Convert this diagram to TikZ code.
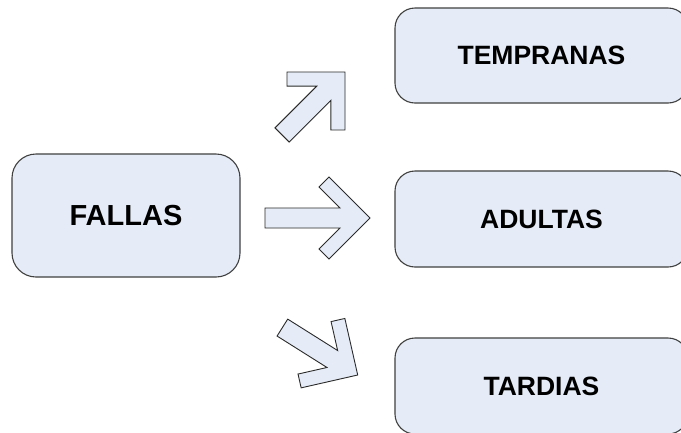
\documentclass[tikz,border=0pt]{standalone}
\usepackage{fontspec}
\setmainfont{Liberation Sans}
\definecolor{boxfill}{HTML}{E6ECF7}
\definecolor{boxline}{HTML}{404040}
\definecolor{arrowline}{HTML}{2A2A2A}
\begin{document}
\begin{tikzpicture}[x=1pt,y=-1pt,
  box/.style={draw=boxline, line width=1.1pt, fill=boxfill, rounded corners=20pt,
    inner sep=0pt, font=\bfseries\fontsize{26.5}{30}\selectfont},
  mainbox/.style={box, rounded corners=24pt, font=\bfseries\fontsize{29}{34}\selectfont},
  arrowstyle/.style={draw=arrowline, line width=0.9pt, fill=boxfill, line join=miter},
  pics/blockarrow/.style={code={
    % notched block arrow, tip at the origin, pointing along +x
    \path[arrowstyle] (0,0) -- (-41,-41) -- (-51,-31) -- (-30,-10) -- (-#1,-10)
      -- (-#1,10) -- (-30,10) -- (-51,31) -- (-41,41) -- cycle;
  }}]
\clip (0,0) rectangle (681,432);
\fill[white] (0,0) rectangle (681,432);

\node[mainbox, minimum width=228pt, minimum height=123pt] (fallas) at (126,215.5) {FALLAS};
\node[box, minimum width=293pt, minimum height=95pt] (tempranas) at (541.5,55.5) {TEMPRANAS};
\node[box, minimum width=293pt, minimum height=96pt] (adultas) at (541.5,219) {ADULTAS};
\node[box, minimum width=293pt, minimum height=96pt] (tardias) at (541.5,386) {TARDIAS};

% block arrows from FALLAS towards the three groups
\pic[rotate=45] (up) at (345,72) {blockarrow=89};
\pic (mid) at (370,218) {blockarrow=105};
\pic[rotate=-32.2] (down) at (357.7,375) {blockarrow=89};
\end{tikzpicture}
\end{document}
